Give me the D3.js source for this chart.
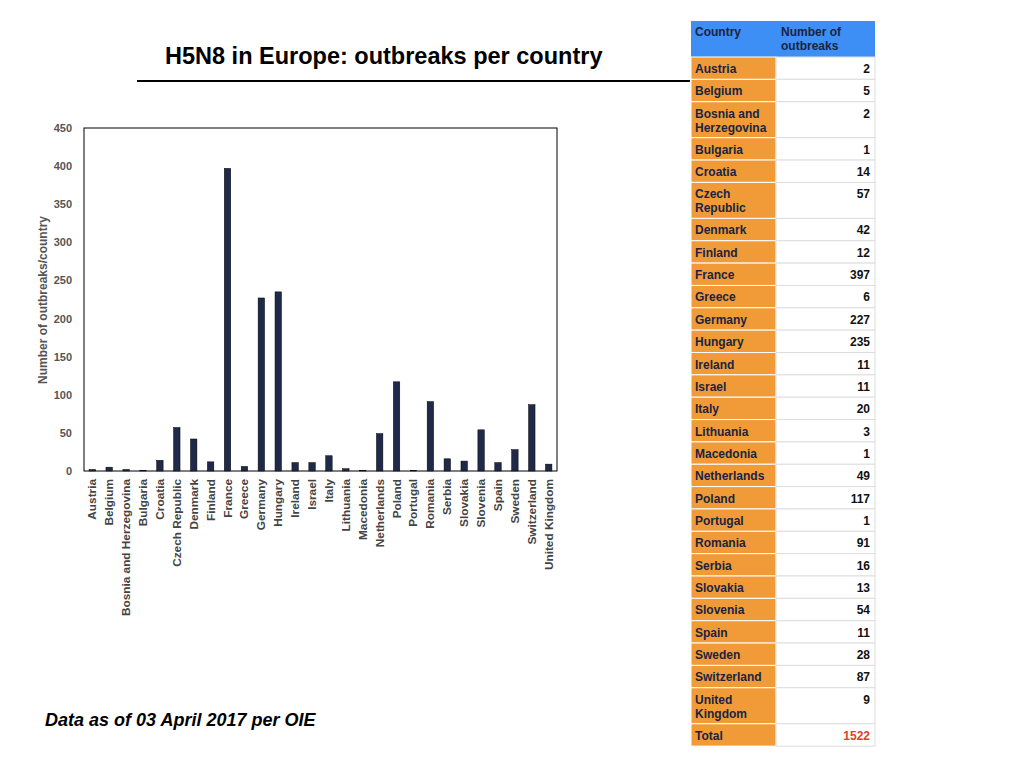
<!DOCTYPE html>
<html><head><meta charset="utf-8">
<script src="https://cdn.jsdelivr.net/npm/d3@7"></script>
<style>body{margin:0;background:#fff;font-family:"Liberation Sans",Arial,sans-serif}</style>
</head><body>
<svg id="c" width="1024" height="768"></svg>
<script>
var countries = ["Austria","Belgium","Bosnia and Herzegovina","Bulgaria","Croatia","Czech Republic","Denmark","Finland","France","Greece","Germany","Hungary","Ireland","Israel","Italy","Lithuania","Macedonia","Netherlands","Poland","Portugal","Romania","Serbia","Slovakia","Slovenia","Spain","Sweden","Switzerland","United Kingdom"];
var outbreaks = [2,5,2,1,14,57,42,12,397,6,227,235,11,11,20,3,1,49,117,1,91,16,13,54,11,28,87,9];
var tableNames = ["Austria","Belgium",["Bosnia and","Herzegovina"],"Bulgaria","Croatia",["Czech","Republic"],"Denmark","Finland","France","Greece","Germany","Hungary","Ireland","Israel","Italy","Lithuania","Macedonia","Netherlands","Poland","Portugal","Romania","Serbia","Slovakia","Slovenia","Spain","Sweden","Switzerland",["United","Kingdom"]];
var yTicks = [0,50,100,150,200,250,300,350,400,450];

var svg = d3.select("#c");

svg.append("text").attr("x",165).attr("y",64).attr("font-size",23.5).attr("font-weight","bold")
  .text("H5N8 in Europe: outbreaks per country");
svg.append("line").attr("x1",137).attr("x2",690).attr("y1",81).attr("y2",81).attr("stroke","#000").attr("stroke-width",2);

var x = d3.scaleBand().domain(countries).range([84,557]).paddingInner(0.62).paddingOuter(0.3);
var y = d3.scaleLinear().domain([0,450]).range([471,128]);

svg.append("rect").attr("x",84).attr("y",128).attr("width",473).attr("height",343)
  .attr("fill","none").attr("stroke","#000").attr("stroke-width",1);

svg.append("g").selectAll("text").data(yTicks).enter().append("text")
  .attr("x",72).attr("y",d=>y(d)+4).attr("text-anchor","end").attr("font-size",11)
  .attr("font-weight","bold").attr("fill","#555").text(d=>d);

svg.append("text").attr("transform","translate(47,300) rotate(-90)").attr("text-anchor","middle")
  .attr("font-size",12).attr("font-weight","bold").attr("fill","#555").text("Number of outbreaks/country");

svg.append("g").selectAll("rect").data(countries).enter().append("rect")
  .attr("x",d=>x(d)).attr("width",x.bandwidth())
  .attr("y",(d,i)=>y(outbreaks[i])).attr("height",(d,i)=>471-y(outbreaks[i]))
  .attr("fill","#1f2a4a").attr("stroke","#000").attr("stroke-width",0.5);

svg.append("g").selectAll("text").data(countries).enter().append("text")
  .attr("transform",d=>"translate("+(x(d)+x.bandwidth()/2+4)+",479) rotate(-90)")
  .attr("text-anchor","end").attr("font-size",11.8).attr("font-weight","bold").attr("fill","#444").text(d=>d);

svg.append("text").attr("x",45).attr("y",726).attr("font-size",18).attr("font-weight","bold")
  .attr("font-style","italic").text("Data as of 03 April 2017 per OIE");

// table
var tx0 = 691, tx1 = 776, tx2 = 875;
var tg = svg.append("g").attr("font-size",12).attr("font-weight","bold");
tg.append("rect").attr("x",tx0).attr("y",21).attr("width",tx2-tx0).attr("height",36).attr("fill","#3d8ef5");
tg.append("text").attr("x",695).attr("y",36).attr("fill","#1a2440").text("Country");
tg.append("text").attr("x",781).attr("y",36).attr("fill","#1a2440").text("Number of");
tg.append("text").attr("x",781).attr("y",50).attr("fill","#1a2440").text("outbreaks");

var rows = tableNames.map((n,i)=>({name:n,val:outbreaks[i],red:false}));
rows.push({name:"Total",val:d3.sum(outbreaks),red:true});
var yy = 57;
rows.forEach(function(r){
  var h = Array.isArray(r.name) ? 36 : 22.35;
  tg.append("rect").attr("x",tx0).attr("y",yy).attr("width",tx1-tx0).attr("height",h)
    .attr("fill","#f09b38").attr("stroke","#fff").attr("stroke-width",1);
  tg.append("rect").attr("x",tx1).attr("y",yy).attr("width",tx2-tx1).attr("height",h)
    .attr("fill","#fff").attr("stroke","#ddd").attr("stroke-width",1);
  var lines = Array.isArray(r.name) ? r.name : [r.name];
  lines.forEach(function(l,k){
    tg.append("text").attr("x",695).attr("y",yy+16+k*14).attr("fill","#1a2440").text(l);
  });
  tg.append("text").attr("x",870).attr("y",yy+16).attr("text-anchor","end")
    .attr("fill",r.red?"#e0402a":"#111").text(r.val);
  yy += h;
});
</script>
</body></html>
